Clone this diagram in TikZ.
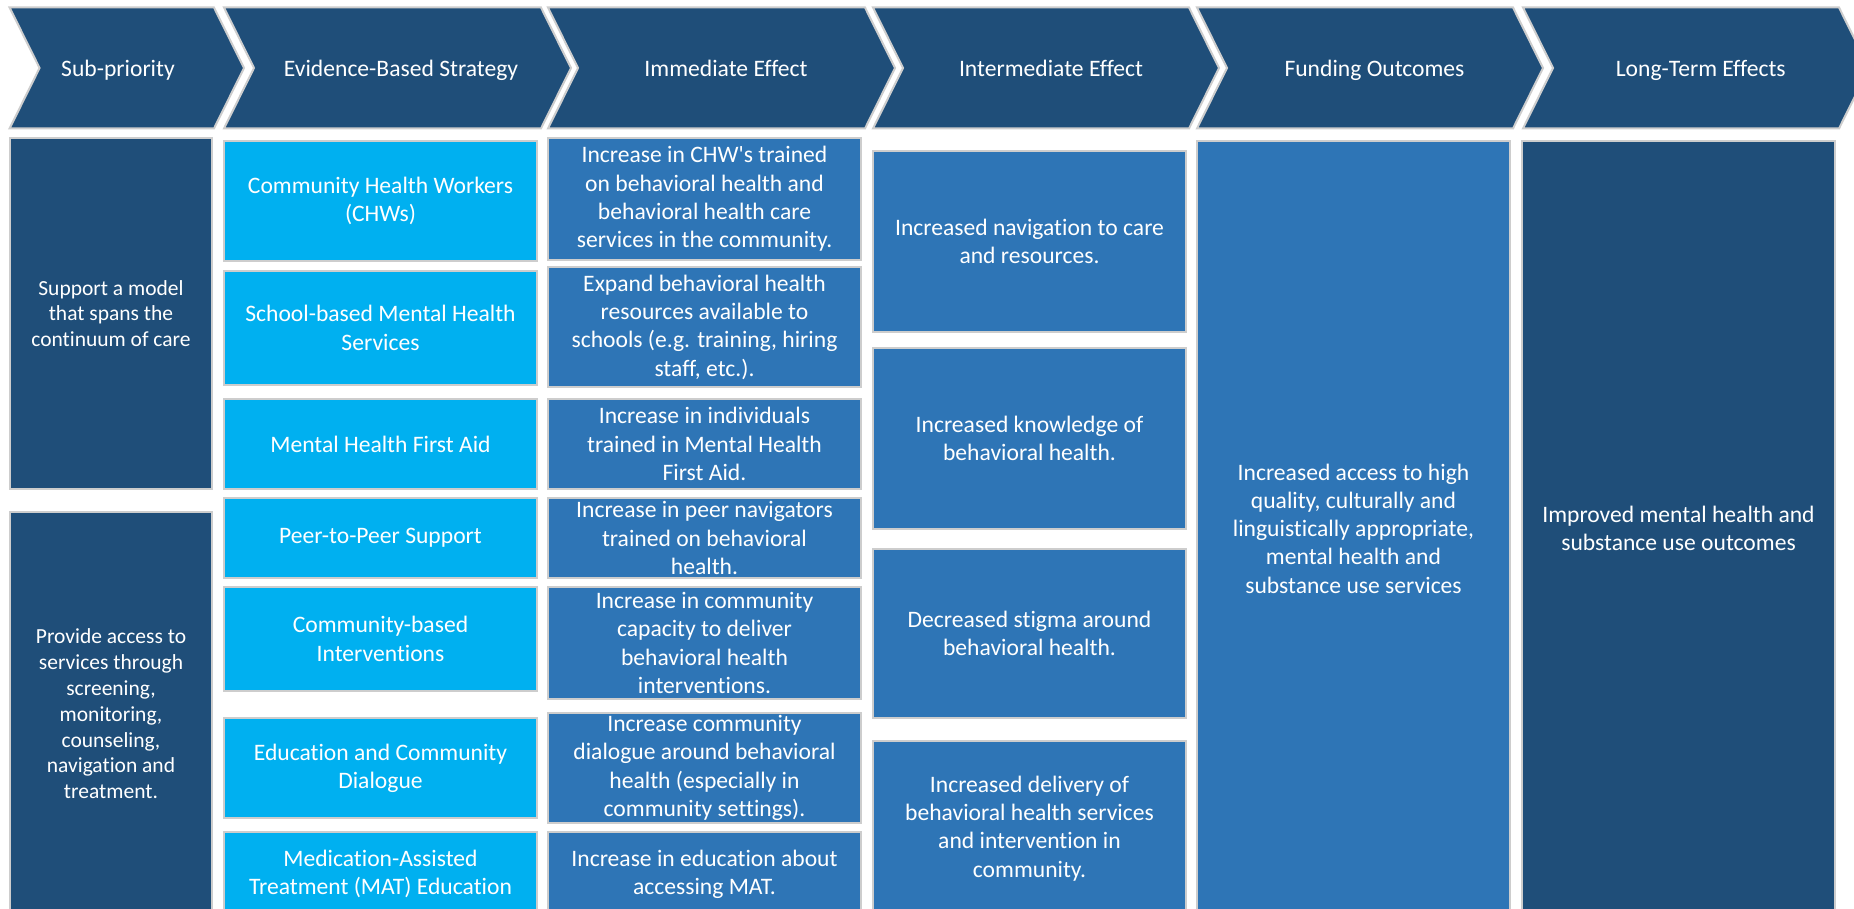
\documentclass[tikz,border=0pt]{standalone}
\usepackage{fontspec}
\setmainfont{Carlito}[Ligatures={TeX,NoCommon}]

\definecolor{navy}{RGB}{31,78,121}
\definecolor{skyblue}{RGB}{0,176,240}
\definecolor{midblue}{RGB}{46,117,182}
\definecolor{edge}{RGB}{205,205,205}

\begin{document}
\begin{tikzpicture}[x=0.5pt, y=-0.5pt,
	chevron/.style={fill=navy, draw=edge, line width=1pt},
	headtext/.style={text=white, anchor=base, font=\fontsize{11.8}{14.2}\selectfont},
	subcell/.style={fill=navy, draw=edge, line width=0.7pt},
	stratcell/.style={fill=skyblue, draw=edge, line width=0.7pt},
	effcell/.style={fill=midblue, draw=edge, line width=0.7pt},
	celltext/.style={text=white, align=center, inner sep=0pt, font=\fontsize{11.8}{14.15}\selectfont},
	subtext/.style={celltext, font=\fontsize{10.75}{12.9}\selectfont}]

	\useasboundingbox (0,0) rectangle (1854,909);
	\clip (0,0) rectangle (1854,909);

	% header chevrons
	\draw[chevron] (9.6,7.5) -- (214,7.5) -- (244,68) -- (214,128.5) -- (9.6,128.5) -- (39.6,68) -- cycle;
	\draw[chevron] (224,7.5) -- (541,7.5) -- (571,68) -- (541,128.5) -- (224,128.5) -- (254,68) -- cycle;
	\draw[chevron] (548,7.5) -- (865,7.5) -- (895,68) -- (865,128.5) -- (548,128.5) -- (578,68) -- cycle;
	\draw[chevron] (873,7.5) -- (1189,7.5) -- (1219,68) -- (1189,128.5) -- (873,128.5) -- (903,68) -- cycle;
	\draw[chevron] (1197,7.5) -- (1513,7.5) -- (1543,68) -- (1513,128.5) -- (1197,128.5) -- (1227,68) -- cycle;
	\draw[chevron] (1523,7.5) -- (1839,7.5) -- (1869,68) -- (1839,128.5) -- (1523,128.5) -- (1553,68) -- cycle;

	\node[headtext] (h1) at (118,77)    {Sub-priority};
	\node[headtext] (h2) at (401,77)    {Evidence-Based Strategy};
	\node[headtext] (h3) at (726,77)    {Immediate Effect};
	\node[headtext] (h4) at (1051,77)   {Intermediate Effect};
	\node[headtext] (h5) at (1374.5,77) {Funding Outcomes};
	\node[headtext] (h6) at (1700.7,77) {Long-Term Effects};

	% sub-priorities
	\path[subcell] (10,138) rectangle (212,489);
	\path[subcell] (10,512) rectangle (212,916);
	\node[subtext] (sub1) at (111,313.5) {Support a model\\that spans the\\continuum of care};
	\node[subtext] (sub2) at (111,714)   {Provide access to\\services through\\screening,\\monitoring,\\counseling,\\navigation and\\treatment.};

	% strategies
	\path[stratcell] (224,141) rectangle (537,261);
	\path[stratcell] (224,271) rectangle (537,385);
	\path[stratcell] (224,399) rectangle (537,489);
	\path[stratcell] (224,498) rectangle (537,578);
	\path[stratcell] (224,587) rectangle (537,691);
	\path[stratcell] (224,718) rectangle (537,818);
	\path[stratcell] (224,832) rectangle (537,916);
	\node[celltext] (strat1) at (380.5,201) {Community Health Workers\\(CHWs)};
	\node[celltext] (strat2) at (380.5,328) {School-based Mental Health\\Services};
	\node[celltext] (strat3) at (380.5,444) {Mental Health First Aid};
	\node[celltext] (strat4) at (380.5,538) {Peer-to-Peer Support};
	\node[celltext] (strat5) at (380.5,639) {Community-based\\Interventions};
	\node[celltext] (strat6) at (380.5,768) {Education and Community\\Dialogue};
	\node[celltext] (strat7) at (380.5,874) {Medication-Assisted\\Treatment (MAT) Education};

	% immediate effects
	\path[effcell] (548,138) rectangle (861,260);
	\path[effcell] (548,267) rectangle (861,387);
	\path[effcell] (548,399) rectangle (861,489);
	\path[effcell] (548,498) rectangle (861,578);
	\path[effcell] (548,587) rectangle (861,699);
	\path[effcell] (548,713) rectangle (861,823);
	\path[effcell] (548,832) rectangle (861,916);
	\node[celltext] (imm1) at (704.5,199) {Increase in CHW\textquotesingle s trained\\on behavioral health and\\behavioral health care\\services in the community.};
	\node[celltext] (imm2) at (704.5,327) {Expand behavioral health\\resources available to\\schools (e.g. training, hiring\\staff, etc.).};
	\node[celltext] (imm3) at (704.5,444) {Increase in individuals\\trained in Mental Health\\First Aid.};
	\node[celltext] (imm4) at (704.5,538) {Increase in peer navigators\\trained on behavioral\\health.};
	\node[celltext] (imm5) at (704.5,643) {Increase in community\\capacity to deliver\\behavioral health\\interventions.};
	\node[celltext] (imm6) at (704.5,768) {Increase community\\dialogue around behavioral\\health (especially in\\community settings).};
	\node[celltext] (imm7) at (704.5,874) {Increase in education about\\accessing MAT.};

	% intermediate effects
	\path[effcell] (873,151) rectangle (1186,332);
	\path[effcell] (873,348) rectangle (1186,529);
	\path[effcell] (873,549) rectangle (1186,718);
	\path[effcell] (873,741) rectangle (1186,916);
	\node[celltext] (mid1) at (1029.5,241.5) {Increased navigation to care\\and resources.};
	\node[celltext] (mid2) at (1029.5,438.5) {Increased knowledge of\\behavioral health.};
	\node[celltext] (mid3) at (1029.5,633.5) {Decreased stigma around\\behavioral health.};
	\node[celltext] (mid4) at (1029.5,828.5) {Increased delivery of\\behavioral health services\\and intervention in\\community.};

	% funding outcomes and long-term effects
	\path[effcell] (1197,141) rectangle (1510,916);
	\path[subcell] (1522,141) rectangle (1835,916);
	\node[celltext] (fund) at (1353.5,528.5) {Increased access to high\\quality, culturally and\\linguistically appropriate,\\mental health and\\substance use services};
	\node[celltext] (long) at (1678.5,528.5) {Improved mental health and\\substance use outcomes};

\end{tikzpicture}
\end{document}
